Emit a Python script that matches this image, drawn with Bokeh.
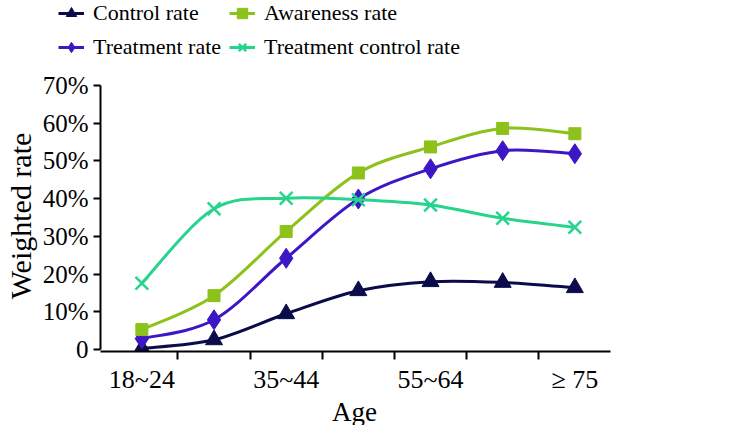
from bokeh.plotting import figure
from bokeh.layouts import column, row
from bokeh.models import Legend, LegendItem, FixedTicker, Range1d, Label
from bokeh.embed import file_html
from bokeh.resources import INLINE

ages = ["18~24", "25~34", "35~44", "45~54", "55~64", "65~74", "≥ 75"]
shown_age_labels = {0: "18~24", 2: "35~44", 4: "55~64", 6: "≥ 75"}
control_rate = [0.3, 2.6, 9.5, 15.6, 18.0, 17.8, 16.4]
awareness_rate = [5.3, 14.3, 31.3, 46.8, 53.7, 58.6, 57.2]
treatment_rate = [2.9, 7.9, 24.2, 39.9, 47.9, 52.7, 51.9]
treatment_control_rate = [17.6, 37.3, 40.1, 39.7, 38.3, 34.8, 32.4]
y_ticks = [0, 10, 20, 30, 40, 50, 60, 70]

FONT = "Liberation Serif"
W = 740
LEG_H = 60
MAIN_H = 336
AGE_H = 29


def blank(height):
    f = figure(width=W, height=height, output_backend="svg", toolbar_location=None,
               x_range=Range1d(0, 1), y_range=Range1d(0, 1),
               x_axis_location=None, y_axis_location=None,
               min_border=0, min_border_left=0, min_border_right=0,
               min_border_top=0, min_border_bottom=0)
    f.outline_line_color = None
    f.grid.visible = False
    return f


p = figure(width=W, height=MAIN_H, output_backend="svg", toolbar_location=None,
           x_range=Range1d(-0.573, 6.494), y_range=Range1d(-0.5, 71.3),
           min_border_left=92, min_border_right=130, min_border_top=20, min_border_bottom=45)
p.outline_line_color = None
p.grid.visible = False


def smooth_bezier(xs, ys):
    n = len(xs)
    d = dict(x0=[], y0=[], x1=[], y1=[], cx0=[], cy0=[], cx1=[], cy1=[])
    for i in range(n - 1):
        ip = max(i - 1, 0)
        inn = min(i + 2, n - 1)
        d["x0"].append(xs[i]); d["y0"].append(ys[i])
        d["x1"].append(xs[i + 1]); d["y1"].append(ys[i + 1])
        d["cx0"].append(xs[i] + (xs[i + 1] - xs[ip]) / 6.0)
        d["cy0"].append(ys[i] + (ys[i + 1] - ys[ip]) / 6.0)
        d["cx1"].append(xs[i + 1] - (xs[inn] - xs[i]) / 6.0)
        d["cy1"].append(ys[i + 1] - (ys[inn] - ys[i]) / 6.0)
    return d


xs = list(range(len(ages)))
series = [
    ("Control rate", control_rate, "#0b0b4b", "triangle", 17),
    ("Treatment rate", treatment_rate, "#3d17c6", "diamond", 20),
    ("Awareness rate", awareness_rate, "#8cc21a", "square", 12),
    ("Treatment control rate", treatment_control_rate, "#26d48c", "x", 18),
]

lf = blank(LEG_H)

items = []
for name, vals, color, marker, size in series:
    lw = 2.5 if marker == "x" else 1
    p.bezier(line_color=color, line_width=3, **smooth_bezier(xs, vals))
    p.scatter(xs, vals, marker=marker, size=size, fill_color=color,
              line_color=color, line_width=lw)
    # legend-only renderers, placed outside the legend figure's visible range
    lb = lf.line(x=[5, 6], y=[5, 5], line_color=color, line_width=3)
    ls = lf.scatter(x=[5], y=[5], marker=marker, size=size * 0.7, fill_color=color,
                    line_color=color, line_width=lw)
    items.append(LegendItem(label=name, renderers=[lb, ls]))

legend = Legend(items=items, nrows=2, location=(58, 0),
                label_text_font=FONT, label_text_font_size="22px", label_text_color="black",
                glyph_width=26, glyph_height=26, label_height=26, label_standoff=9,
                spacing=8, padding=0, margin=0,
                border_line_color=None, background_fill_alpha=0)
lf.add_layout(legend)

# y axis
p.yaxis.ticker = FixedTicker(ticks=y_ticks)
p.yaxis.major_label_overrides = {t: (f"{t}%" if t else "0") for t in y_ticks}
p.yaxis.bounds = (0, 70)
p.yaxis.major_tick_out = 7
p.yaxis.major_tick_in = 0
p.yaxis.major_label_standoff = 5
p.yaxis.axis_label = "Weighted rate"
p.yaxis.axis_label_standoff = 3
p.yaxis.axis_label_text_font_size = "30px"
p.yaxis.major_label_text_font_size = "25px"

# x axis
p.xaxis.ticker = FixedTicker(ticks=list(shown_age_labels.keys()),
                             minor_ticks=[i + 0.5 for i in range(len(ages) - 1)])
p.xaxis.major_label_overrides = shown_age_labels
p.xaxis.major_tick_out = 0
p.xaxis.major_tick_in = 0
p.xaxis.minor_tick_out = 8
p.xaxis.minor_tick_in = 0
p.xaxis.major_label_standoff = 5
p.xaxis.major_label_text_font_size = "26px"

for ax in (p.xaxis, p.yaxis):
    ax.axis_line_color = "black"
    ax.axis_line_width = 2
    ax.major_tick_line_color = "black"
    ax.major_tick_line_width = 2
    ax.minor_tick_line_color = "black"
    ax.minor_tick_line_width = 2
    ax.major_label_text_color = "black"
    ax.axis_label_text_color = "black"
    ax.axis_label_text_font = FONT
    ax.axis_label_text_font_style = "normal"
    ax.major_label_text_font = FONT
p.yaxis.minor_tick_line_color = None

# x axis title "Age" below the chart
af = blank(AGE_H)
af.add_layout(Label(x=354, y=14, x_units="screen", y_units="screen", text="Age",
                    text_align="center", text_baseline="middle",
                    text_font=FONT, text_font_size="27px", text_color="black"))

layout = column(row(lf), p, row(af), spacing=0)
open("out.html", "w").write(file_html(layout, INLINE))
